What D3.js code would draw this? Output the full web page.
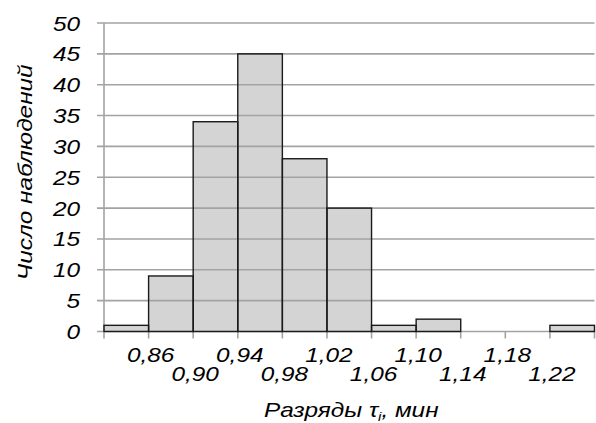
<!DOCTYPE html>
<html>
<head>
<meta charset="utf-8">
<script src="https://cdn.jsdelivr.net/npm/d3@7"></script>
<style>
  html, body { margin: 0; padding: 0; background: #fff; }
  svg { display: block; }
  text { font-family: "Liberation Sans", Arial, sans-serif; font-style: italic; fill: #000; }
</style>
</head>
<body>
<svg id="chart" width="596" height="423"></svg>
<script>
// Bin boundaries (interval length 0.04 min) and counts per bin
const binEdges = [0.82, 0.86, 0.90, 0.94, 0.98, 1.02, 1.06, 1.10, 1.14, 1.18, 1.22, 1.26];
const counts = [1, 9, 34, 45, 28, 20, 1, 2, 0, 0, 1];
const edgeLabels = ["0,86", "0,90", "0,94", "0,98", "1,02", "1,06", "1,10", "1,14", "1,18", "1,22"];
const yTicks = [0, 5, 10, 15, 20, 25, 30, 35, 40, 45, 50];

const svg = d3.select("#chart");
const plotL = 104, plotR = 594.5, plotT = 23, plotB = 331.5;
const wide = 1.16;   // horizontal stretch applied to all lettering

const x = d3.scaleLinear().domain([binEdges[0], binEdges[binEdges.length - 1]]).range([plotL, plotR]);
const y = d3.scaleLinear().domain([0, 50]).range([plotB, plotT]);

const bins = counts.map((c, i) => ({ x0: binEdges[i], x1: binEdges[i + 1], n: c }));

// bar fills
svg.append("g").selectAll("rect").data(bins.filter(d => d.n > 0)).join("rect")
  .attr("x", d => x(d.x0)).attr("width", d => x(d.x1) - x(d.x0))
  .attr("y", d => y(d.n)).attr("height", d => y(0) - y(d.n))
  .attr("fill", "#d4d4d4");

// horizontal gridlines (drawn over the fills)
svg.append("g").selectAll("line").data(yTicks).join("line")
  .attr("x1", plotL - 7).attr("x2", plotR)
  .attr("y1", d => y(d)).attr("y2", d => y(d))
  .attr("stroke", "#a3a3a3").attr("stroke-width", 1.6);

// vertical axis line
svg.append("line").attr("x1", plotL).attr("x2", plotL).attr("y1", plotT).attr("y2", plotB + 7)
  .attr("stroke", "#a3a3a3").attr("stroke-width", 1.6);

// bottom tick marks at every bin edge
svg.append("g").selectAll("line").data(binEdges.slice(1)).join("line")
  .attr("x1", d => x(d)).attr("x2", d => x(d))
  .attr("y1", plotB).attr("y2", plotB + 7)
  .attr("stroke", "#a3a3a3").attr("stroke-width", 1.6);

// bar outlines
svg.append("g").selectAll("rect").data(bins.filter(d => d.n > 0)).join("rect")
  .attr("x", d => x(d.x0)).attr("width", d => x(d.x1) - x(d.x0))
  .attr("y", d => y(d.n)).attr("height", d => y(0) - y(d.n))
  .attr("fill", "none").attr("stroke", "#1a1a1a").attr("stroke-width", 1.4);

// y tick labels
svg.append("g").selectAll("text").data(yTicks).join("text")
  .attr("transform", d => `translate(80,${y(d) + 7.5}) scale(${wide},1)`)
  .attr("text-anchor", "end").attr("font-size", 21)
  .text(d => d);

// x edge labels, staggered on two rows
svg.append("g").selectAll("text").data(edgeLabels).join("text")
  .attr("transform", (d, i) => `translate(${x(binEdges[i + 1]) + 2},${i % 2 === 0 ? 362 : 381}) scale(${wide},1)`)
  .attr("text-anchor", "middle").attr("font-size", 21)
  .text(d => d);

// axis titles
const xt = svg.append("text")
  .attr("transform", `translate(${(plotL + plotR) / 2 + 2},417) scale(${wide},1)`)
  .attr("text-anchor", "middle").attr("font-size", 21);
xt.append("tspan").text("Разряды τ");
xt.append("tspan").attr("font-size", 13).attr("dy", 4).text("i");
xt.append("tspan").attr("dy", -4).text(", мин");

svg.append("text")
  .attr("transform", `translate(32,${(plotT + plotB) / 2 - 5}) rotate(-90) scale(${wide},1)`)
  .attr("text-anchor", "middle").attr("font-size", 21)
  .text("Число наблюдений");
</script>
</body>
</html>
